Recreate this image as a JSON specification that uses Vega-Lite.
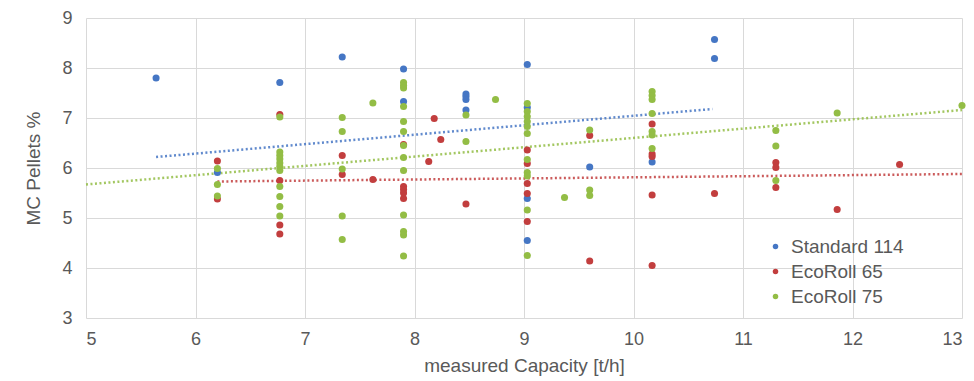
{
  "$schema": "https://vega.github.io/schema/vega-lite/v6.json",
  "width": 876,
  "height": 300,
  "autosize": {"type": "none"},
  "padding": {"left": 86, "top": 18, "right": 12, "bottom": 63},
  "background": "white",
  "config": {
    "view": {"stroke": null},
    "font": "Liberation Sans",
    "axis": {
      "grid": true,
      "gridColor": "#d9d9d9",
      "gridWidth": 1,
      "domain": false,
      "ticks": false,
      "labelColor": "#595959",
      "labelFontSize": 18,
      "titleColor": "#595959",
      "titleFontSize": 19,
      "titleFontWeight": "normal"
    }
  },
  "datasets": {
    "points": [
      {"series": "Standard 114", "capacity": 5.64, "mc": 7.8},
      {"series": "Standard 114", "capacity": 6.2, "mc": 5.91},
      {"series": "Standard 114", "capacity": 6.77, "mc": 7.71},
      {"series": "Standard 114", "capacity": 7.34, "mc": 8.22},
      {"series": "Standard 114", "capacity": 7.9, "mc": 7.98},
      {"series": "Standard 114", "capacity": 7.9, "mc": 7.33},
      {"series": "Standard 114", "capacity": 8.47, "mc": 7.48},
      {"series": "Standard 114", "capacity": 8.47, "mc": 7.43},
      {"series": "Standard 114", "capacity": 8.47, "mc": 7.37},
      {"series": "Standard 114", "capacity": 8.47, "mc": 7.16},
      {"series": "Standard 114", "capacity": 9.03, "mc": 8.07},
      {"series": "Standard 114", "capacity": 9.03, "mc": 7.21},
      {"series": "Standard 114", "capacity": 9.03, "mc": 5.39},
      {"series": "Standard 114", "capacity": 9.03, "mc": 4.55},
      {"series": "Standard 114", "capacity": 9.6, "mc": 6.02},
      {"series": "Standard 114", "capacity": 10.17, "mc": 6.12},
      {"series": "Standard 114", "capacity": 10.74, "mc": 8.57},
      {"series": "Standard 114", "capacity": 10.74, "mc": 8.19},
      {"series": "EcoRoll 65", "capacity": 6.2, "mc": 6.14},
      {"series": "EcoRoll 65", "capacity": 6.2, "mc": 5.38},
      {"series": "EcoRoll 65", "capacity": 6.77, "mc": 7.07},
      {"series": "EcoRoll 65", "capacity": 6.77, "mc": 5.75},
      {"series": "EcoRoll 65", "capacity": 6.77, "mc": 4.86},
      {"series": "EcoRoll 65", "capacity": 6.77, "mc": 4.68},
      {"series": "EcoRoll 65", "capacity": 7.34, "mc": 6.25},
      {"series": "EcoRoll 65", "capacity": 7.34, "mc": 5.87},
      {"series": "EcoRoll 65", "capacity": 7.62, "mc": 5.77},
      {"series": "EcoRoll 65", "capacity": 7.9, "mc": 6.47},
      {"series": "EcoRoll 65", "capacity": 7.9, "mc": 5.63},
      {"series": "EcoRoll 65", "capacity": 7.9, "mc": 5.57},
      {"series": "EcoRoll 65", "capacity": 7.9, "mc": 5.5},
      {"series": "EcoRoll 65", "capacity": 7.9, "mc": 5.39},
      {"series": "EcoRoll 65", "capacity": 8.13, "mc": 6.13},
      {"series": "EcoRoll 65", "capacity": 8.18, "mc": 6.99},
      {"series": "EcoRoll 65", "capacity": 8.24, "mc": 6.57},
      {"series": "EcoRoll 65", "capacity": 8.47, "mc": 5.28},
      {"series": "EcoRoll 65", "capacity": 9.03, "mc": 6.36},
      {"series": "EcoRoll 65", "capacity": 9.03, "mc": 6.09},
      {"series": "EcoRoll 65", "capacity": 9.03, "mc": 5.69},
      {"series": "EcoRoll 65", "capacity": 9.03, "mc": 5.49},
      {"series": "EcoRoll 65", "capacity": 9.03, "mc": 4.93},
      {"series": "EcoRoll 65", "capacity": 9.6, "mc": 6.65},
      {"series": "EcoRoll 65", "capacity": 9.6, "mc": 4.14},
      {"series": "EcoRoll 65", "capacity": 10.17, "mc": 6.88},
      {"series": "EcoRoll 65", "capacity": 10.17, "mc": 6.28},
      {"series": "EcoRoll 65", "capacity": 10.17, "mc": 6.23},
      {"series": "EcoRoll 65", "capacity": 10.17, "mc": 5.46},
      {"series": "EcoRoll 65", "capacity": 10.17, "mc": 4.05},
      {"series": "EcoRoll 65", "capacity": 10.74, "mc": 5.49},
      {"series": "EcoRoll 65", "capacity": 11.3, "mc": 6.11},
      {"series": "EcoRoll 65", "capacity": 11.3, "mc": 6.01},
      {"series": "EcoRoll 65", "capacity": 11.3, "mc": 5.61},
      {"series": "EcoRoll 65", "capacity": 11.86, "mc": 5.17},
      {"series": "EcoRoll 65", "capacity": 12.43, "mc": 6.07},
      {"series": "EcoRoll 75", "capacity": 6.2, "mc": 5.99},
      {"series": "EcoRoll 75", "capacity": 6.2, "mc": 5.67},
      {"series": "EcoRoll 75", "capacity": 6.2, "mc": 5.44},
      {"series": "EcoRoll 75", "capacity": 6.77, "mc": 7.02},
      {"series": "EcoRoll 75", "capacity": 6.77, "mc": 6.32},
      {"series": "EcoRoll 75", "capacity": 6.77, "mc": 6.25},
      {"series": "EcoRoll 75", "capacity": 6.77, "mc": 6.18},
      {"series": "EcoRoll 75", "capacity": 6.77, "mc": 6.1},
      {"series": "EcoRoll 75", "capacity": 6.77, "mc": 6.03},
      {"series": "EcoRoll 75", "capacity": 6.77, "mc": 5.95},
      {"series": "EcoRoll 75", "capacity": 6.77, "mc": 5.63},
      {"series": "EcoRoll 75", "capacity": 6.77, "mc": 5.43},
      {"series": "EcoRoll 75", "capacity": 6.77, "mc": 5.23},
      {"series": "EcoRoll 75", "capacity": 6.77, "mc": 5.04},
      {"series": "EcoRoll 75", "capacity": 7.34, "mc": 7.01},
      {"series": "EcoRoll 75", "capacity": 7.34, "mc": 6.73},
      {"series": "EcoRoll 75", "capacity": 7.34, "mc": 5.98},
      {"series": "EcoRoll 75", "capacity": 7.34, "mc": 5.04},
      {"series": "EcoRoll 75", "capacity": 7.34, "mc": 4.57},
      {"series": "EcoRoll 75", "capacity": 7.62, "mc": 7.3},
      {"series": "EcoRoll 75", "capacity": 7.9, "mc": 7.71},
      {"series": "EcoRoll 75", "capacity": 7.9, "mc": 7.65},
      {"series": "EcoRoll 75", "capacity": 7.9, "mc": 7.6},
      {"series": "EcoRoll 75", "capacity": 7.9, "mc": 7.23},
      {"series": "EcoRoll 75", "capacity": 7.9, "mc": 6.93},
      {"series": "EcoRoll 75", "capacity": 7.9, "mc": 6.73},
      {"series": "EcoRoll 75", "capacity": 7.9, "mc": 6.45},
      {"series": "EcoRoll 75", "capacity": 7.9, "mc": 6.21},
      {"series": "EcoRoll 75", "capacity": 7.9, "mc": 5.95},
      {"series": "EcoRoll 75", "capacity": 7.9, "mc": 5.06},
      {"series": "EcoRoll 75", "capacity": 7.9, "mc": 4.73},
      {"series": "EcoRoll 75", "capacity": 7.9, "mc": 4.66},
      {"series": "EcoRoll 75", "capacity": 7.9, "mc": 4.24},
      {"series": "EcoRoll 75", "capacity": 8.47, "mc": 7.06},
      {"series": "EcoRoll 75", "capacity": 8.47, "mc": 6.53},
      {"series": "EcoRoll 75", "capacity": 8.74, "mc": 7.37},
      {"series": "EcoRoll 75", "capacity": 9.03, "mc": 7.29},
      {"series": "EcoRoll 75", "capacity": 9.03, "mc": 7.13},
      {"series": "EcoRoll 75", "capacity": 9.03, "mc": 7.03},
      {"series": "EcoRoll 75", "capacity": 9.03, "mc": 6.93},
      {"series": "EcoRoll 75", "capacity": 9.03, "mc": 6.83},
      {"series": "EcoRoll 75", "capacity": 9.03, "mc": 6.69},
      {"series": "EcoRoll 75", "capacity": 9.03, "mc": 6.17},
      {"series": "EcoRoll 75", "capacity": 9.03, "mc": 5.91},
      {"series": "EcoRoll 75", "capacity": 9.03, "mc": 5.84},
      {"series": "EcoRoll 75", "capacity": 9.03, "mc": 5.16},
      {"series": "EcoRoll 75", "capacity": 9.03, "mc": 4.25},
      {"series": "EcoRoll 75", "capacity": 9.37, "mc": 5.41},
      {"series": "EcoRoll 75", "capacity": 9.6, "mc": 6.76},
      {"series": "EcoRoll 75", "capacity": 9.6, "mc": 5.56},
      {"series": "EcoRoll 75", "capacity": 9.6, "mc": 5.45},
      {"series": "EcoRoll 75", "capacity": 10.17, "mc": 7.53},
      {"series": "EcoRoll 75", "capacity": 10.17, "mc": 7.45},
      {"series": "EcoRoll 75", "capacity": 10.17, "mc": 7.37},
      {"series": "EcoRoll 75", "capacity": 10.17, "mc": 7.09},
      {"series": "EcoRoll 75", "capacity": 10.17, "mc": 6.73},
      {"series": "EcoRoll 75", "capacity": 10.17, "mc": 6.66},
      {"series": "EcoRoll 75", "capacity": 10.17, "mc": 6.39},
      {"series": "EcoRoll 75", "capacity": 11.3, "mc": 6.75},
      {"series": "EcoRoll 75", "capacity": 11.3, "mc": 6.44},
      {"series": "EcoRoll 75", "capacity": 11.3, "mc": 5.75},
      {"series": "EcoRoll 75", "capacity": 11.86, "mc": 7.1},
      {"series": "EcoRoll 75", "capacity": 13.0, "mc": 7.25}
    ],
    "trends": [
      {"series": "Standard 114", "capacity": 5.64, "mc": 6.22},
      {"series": "Standard 114", "capacity": 10.72, "mc": 7.18},
      {"series": "EcoRoll 65", "capacity": 6.2, "mc": 5.73},
      {"series": "EcoRoll 65", "capacity": 13.0, "mc": 5.88},
      {"series": "EcoRoll 75", "capacity": 5.0, "mc": 5.67},
      {"series": "EcoRoll 75", "capacity": 13.0, "mc": 7.16}
    ]
  },
  "layer": [
    {
      "data": {"name": "trends"},
      "mark": {"type": "line", "strokeDash": [2, 2.5], "strokeWidth": 2.5, "opacity": 0.85},
      "encoding": {
        "x": {"field": "capacity", "type": "quantitative"},
        "y": {"field": "mc", "type": "quantitative"},
        "detail": {"field": "series"},
        "color": {"field": "series", "type": "nominal", "legend": null}
      }
    },
    {
      "data": {"name": "points"},
      "mark": {"type": "point", "filled": true, "opacity": 1, "size": 50, "shape": "circle"},
      "encoding": {
        "x": {
          "field": "capacity",
          "type": "quantitative",
          "scale": {"domain": [5, 13], "nice": false, "zero": false},
          "axis": {"values": [5, 6, 7, 8, 9, 10, 11, 12, 13], "format": "d", "title": "measured Capacity [t/h]", "labelPadding": 12, "titlePadding": 8}
        },
        "y": {
          "field": "mc",
          "type": "quantitative",
          "scale": {"domain": [3, 9], "nice": false, "zero": false},
          "axis": {"values": [3, 4, 5, 6, 7, 8, 9], "format": "d", "title": "MC Pellets %", "labelPadding": 14, "titlePadding": 18}
        },
        "color": {
          "field": "series",
          "type": "nominal",
          "scale": {"domain": ["Standard 114", "EcoRoll 65", "EcoRoll 75"], "range": ["#4576C4", "#C23E3E", "#93BD45"]},
          "legend": {
            "title": null,
            "orient": "none",
            "legendX": 680,
            "legendY": 219,
            "symbolType": "circle",
            "symbolSize": 30,
            "labelFontSize": 19,
            "labelColor": "#595959",
            "labelOffset": 6,
            "rowPadding": 5
          }
        }
      }
    }
  ],
  "resolve": {"legend": {"color": "independent"}}
}
